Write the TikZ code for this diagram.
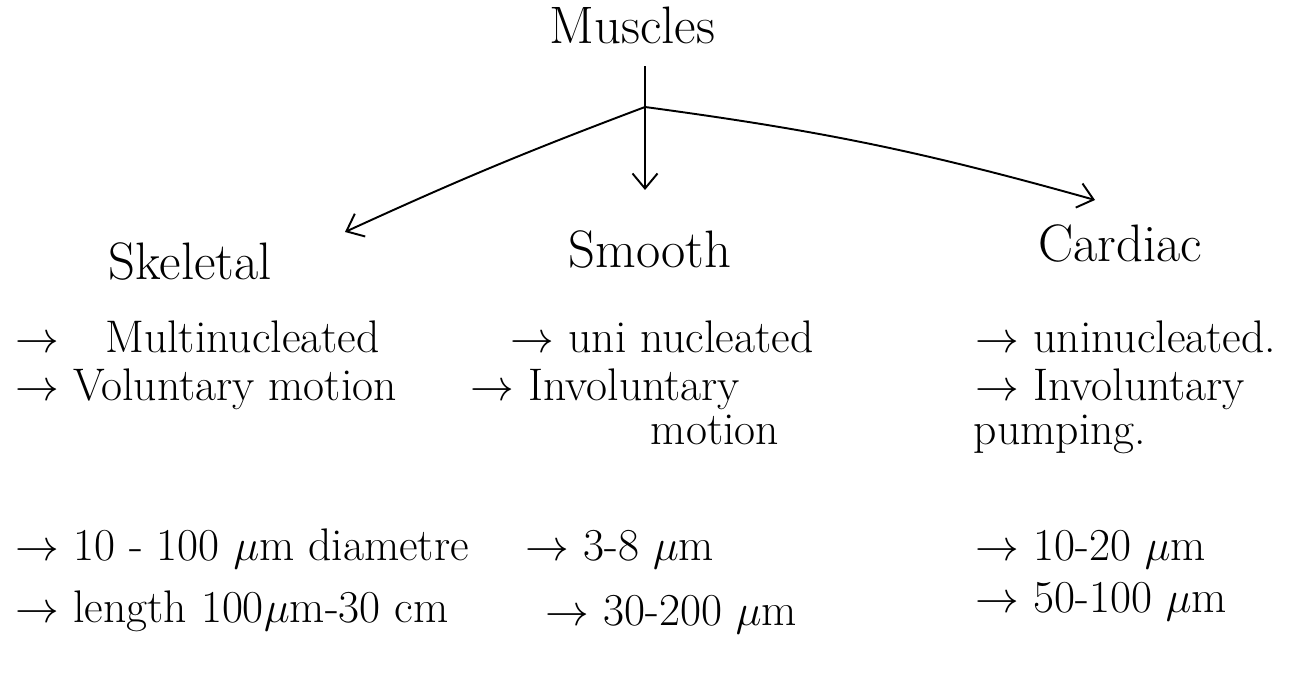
\documentclass[tikz,border=0pt]{standalone}
\usepackage{amsmath,amssymb}
\usepackage{tikz}
\usetikzlibrary{arrows.meta,positioning}

\begin{document}
\begin{tikzpicture}[>={Straight Barb[length=3mm,width=5mm]},line width=1.1pt,every node/.style={font=\fontsize{26}{28}\selectfont},head/.style={anchor=base,font=\fontsize{30}{32}\selectfont},item/.style={anchor=base west,inner sep=0pt}]
\useasboundingbox (0,0) rectangle (26.28,13.48);
\node[head](muscles) at (12.65,12.6){Muscles};
\coordinate (junc) at (12.9,11.34);
\coordinate (skTip) at (6.9,8.84); \coordinate (smTip) at (12.9,9.68); \coordinate (cdTip) at (21.9,9.48);
\node[head](skeletal) at (3.8,7.88){Skeletal};
\node[head](smooth) at (13.0,8.12){Smooth};
\node[head](cardiac) at (22.4,8.24){Cardiac};
\node[item](skA) at (0.3,6.42){$\rightarrow$\quad Multinucleated};
\node[item](skB) at (0.3,5.46){$\rightarrow$ Voluntary motion};
\node[item](skC) at (0.3,2.28){$\rightarrow$ 10 - 100 $\mu$m diametre};
\node[item](skD) at (0.3,1.04){$\rightarrow$ length 100$\mu$m-30 cm};
\node[item](smA) at (10.2,6.42){$\rightarrow$ uni nucleated};
\node[item](smB) at (9.4,5.46){$\rightarrow$ Involuntary};
\node[item,anchor=base](smB2) at (14.3,4.6){motion};
\node[item](smC) at (10.5,2.28){$\rightarrow$\ 3-8 $\mu$m};
\node[item](smD) at (10.9,0.98){$\rightarrow$\ 30-200 $\mu$m};
\node[item](cdA) at (19.5,6.42){$\rightarrow$ uninucleated.};
\node[item](cdB) at (19.5,5.46){$\rightarrow$ Involuntary};
\node[item,anchor=base](cdB2) at (21.2,4.6){pumping.};
\node[item](cdC) at (19.5,2.28){$\rightarrow$\ 10-20 $\mu$m};
\node[item](cdD) at (19.5,1.24){$\rightarrow$\ 50-100 $\mu$m};
\draw[shorten <=0.3cm] (muscles.south -| junc)--(junc);
\draw[->] (junc)--(smTip);
\draw[->] (junc) to[bend right=2] (skTip);
\draw[->] (junc) to[bend left=4] (cdTip);
\end{tikzpicture}
\end{document}
